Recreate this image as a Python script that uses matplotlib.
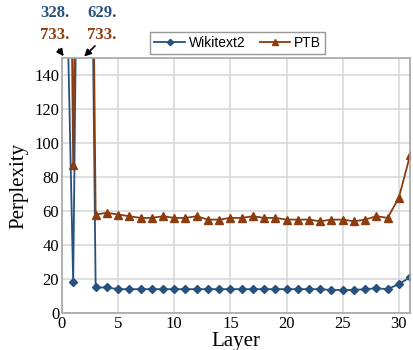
import matplotlib.pyplot as plt

# perplexity per skipped layer
layers = list(range(32))
wikitext2 = [328, 18, 629, 15, 15, 14, 14, 14, 14, 14, 14, 14, 14, 14, 14, 14,
             14, 14, 14, 14, 14, 14, 14, 14, 13.5, 13.5, 13.5, 14, 14.5, 14, 17, 21]
ptb = [733, 87, 733, 58, 59, 58, 57, 56, 56, 57, 56, 56, 57, 55, 55, 56,
       56, 57, 56, 56, 55, 55, 55, 54, 55, 55, 54, 55, 57, 56, 68, 93]
yticks = [0, 20, 40, 60, 80, 100, 120, 140]
xticks = [0, 5, 10, 15, 20, 25, 30]

blue = '#27527f'
brown = '#8b3d10'

fig = plt.figure(figsize=(4.13, 3.5), dpi=100)
ax = fig.add_axes([0.15, 0.106, 0.843, 0.727])

ax.plot(layers, wikitext2, color=blue, marker='D', markersize=4, lw=1.3, label='Wikitext2')
ax.plot(layers, ptb, color=brown, marker='^', markersize=6, lw=1.3, label='PTB')

ax.set_xlim(0, 31)
ax.set_ylim(0, 150)
ax.set_xticks(xticks)
ax.set_yticks(yticks)
ax.grid(True, color='#d9d9d9', lw=1.2)
ax.set_axisbelow(True)
ax.tick_params(length=0, pad=2, labelsize=12)
for lab in ax.get_xticklabels() + ax.get_yticklabels():
    lab.set_family('Liberation Serif')
for s in ax.spines.values():
    s.set_color('#a6a6a6')
    s.set_linewidth(1.2)

ax.set_xlabel('Layer', family='Liberation Serif', fontsize=15, labelpad=0)
ax.set_ylabel('Perplexity', family='Liberation Serif', fontsize=15, labelpad=4)

# off-scale values
txt = dict(family='Liberation Serif', fontweight='bold', fontsize=12, ha='center')
fig.text(55 / 413, 1 - 17 / 350, f'{wikitext2[0]:.0f}.', color=blue, **txt)
fig.text(55 / 413, 1 - 39 / 350, f'{ptb[0]:.0f}.', color=brown, **txt)
fig.text(102 / 413, 1 - 17 / 350, f'{wikitext2[2]:.0f}.', color=blue, **txt)
fig.text(102 / 413, 1 - 39 / 350, f'{ptb[2]:.0f}.', color=brown, **txt)
ax.annotate('', xy=(0.3, 150), xytext=(57 / 413, 1 - 47 / 350), textcoords='figure fraction',
            arrowprops=dict(arrowstyle='-|>', color='black', lw=1.2), annotation_clip=False)
ax.annotate('', xy=(1.8, 150), xytext=(97 / 413, 1 - 44 / 350), textcoords='figure fraction',
            arrowprops=dict(arrowstyle='-|>', color='black', lw=1.2), annotation_clip=False)

leg = ax.legend(loc='lower center', bbox_to_anchor=(0.505, 0.99), ncol=2, frameon=True,
                fancybox=False, edgecolor='#7f7f7f', prop={'family': 'Liberation Sans', 'size': 10},
                handlelength=2.2, columnspacing=1.0, borderpad=0.3, handletextpad=0.3,
                markerscale=0.8)
leg.get_frame().set_linewidth(1.0)

fig.savefig('out.png', dpi=100)
